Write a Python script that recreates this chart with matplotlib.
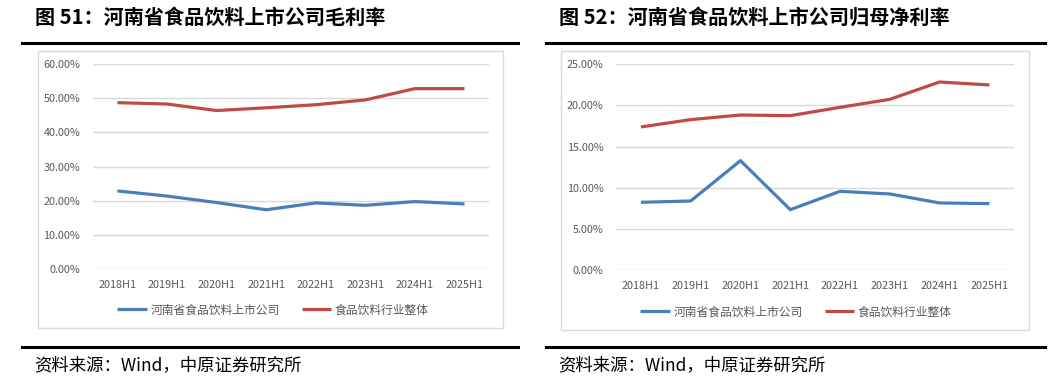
import matplotlib
matplotlib.use('Agg')
import matplotlib.pyplot as plt
from matplotlib.patches import Rectangle
from matplotlib.lines import Line2D
from matplotlib.ticker import FuncFormatter

plt.rcParams['font.family'] = ['Noto Sans CJK SC', 'DejaVu Sans']

# data
periods = ['2018H1', '2019H1', '2020H1', '2021H1', '2022H1', '2023H1', '2024H1', '2025H1']
series_names = ['河南省食品饮料上市公司', '食品饮料行业整体']

gross_henan = [22.9, 21.4, 19.5, 17.4, 19.4, 18.7, 19.8, 19.1]
gross_industry = [48.7, 48.3, 46.4, 47.2, 48.1, 49.5, 52.8, 52.8]

net_henan = [8.24, 8.40, 13.29, 7.35, 9.57, 9.25, 8.16, 8.08]
net_industry = [17.37, 18.26, 18.82, 18.74, 19.75, 20.72, 22.82, 22.46]

titles = ['图 51：河南省食品饮料上市公司毛利率', '图 52：河南省食品饮料上市公司归母净利率']
source = '资料来源：Wind，中原证券研究所'

W, H = 1058, 383
blue = '#4a7ebb'
red = '#be4b48'
grid_c = '#d9d9d9'
tick_c = '#595959'


def rect(x0, y0, x1, y1):
    return [x0 / W, 1 - y1 / H, (x1 - x0) / W, (y1 - y0) / H]


fig = plt.figure(figsize=(W / 100, H / 100), dpi=100)


def draw_panel(x_left, x_right, box, ax_box, title, henan, industry, ymax, ystep, legend_xy):
    # title and rules
    fig.text(x_left + 13 / W, 1 - 17 / H, title, fontsize=14.5, fontweight='bold',
             ha='left', va='center', color='black')
    fig.add_artist(Line2D([x_left, x_right], [1 - 43 / H, 1 - 43 / H], color='black', lw=2.2,
                          transform=fig.transFigure))
    fig.add_artist(Line2D([x_left, x_right], [1 - 347 / H, 1 - 347 / H], color='black', lw=2.2,
                          transform=fig.transFigure))
    fig.text(x_left + 12 / W, 1 - 365 / H, source, fontsize=12.5, ha='left', va='center', color='black')

    # chart frame
    r = rect(*box)
    fig.add_artist(Rectangle((r[0], r[1]), r[2], r[3], transform=fig.transFigure,
                             facecolor='white', edgecolor=grid_c, lw=1, zorder=-5))

    ax = fig.add_axes(rect(*ax_box))
    ax.patch.set_visible(False)
    x = range(len(periods))
    ax.plot(x, henan, color=blue, lw=2.3, label=series_names[0], solid_capstyle='butt')
    ax.plot(x, industry, color=red, lw=2.3, label=series_names[1], solid_capstyle='butt')
    ax.set_xlim(-0.5, len(periods) - 0.5)
    ax.set_ylim(0, ymax)
    yt = [i * ystep for i in range(int(round(ymax / ystep)) + 1)]
    ax.set_yticks(yt)
    ax.yaxis.set_major_formatter(FuncFormatter(lambda v, p: f'{v:.2f}%'))
    ax.set_xticks(list(x))
    ax.set_xticklabels(periods)
    ax.grid(axis='y', color=grid_c, lw=1)
    ax.set_axisbelow(True)
    for s in ax.spines.values():
        s.set_visible(False)
    ax.tick_params(axis='both', length=0, labelsize=7.8, colors=tick_c)
    ax.tick_params(axis='y', pad=9)
    ax.tick_params(axis='x', pad=8)
    ax.legend(loc='center', bbox_to_anchor=legend_xy, bbox_transform=fig.transFigure, ncol=2,
              frameon=False, fontsize=8.5, labelcolor=tick_c, handlelength=2.5, handletextpad=0.3,
              columnspacing=1.9)
    return ax


draw_panel(22 / W, 518 / W, (38, 51, 503, 328), (92.7, 64, 489.3, 269.3), titles[0],
           gross_henan, gross_industry, 60, 10, (273 / W, 1 - 310 / H))
draw_panel(546 / W, 1045 / W, (561, 51, 1029, 330), (616, 64, 1014.3, 270.3), titles[1],
           net_henan, net_industry, 25, 5, (796 / W, 1 - 312 / H))

fig.savefig('out.png', dpi=100)
